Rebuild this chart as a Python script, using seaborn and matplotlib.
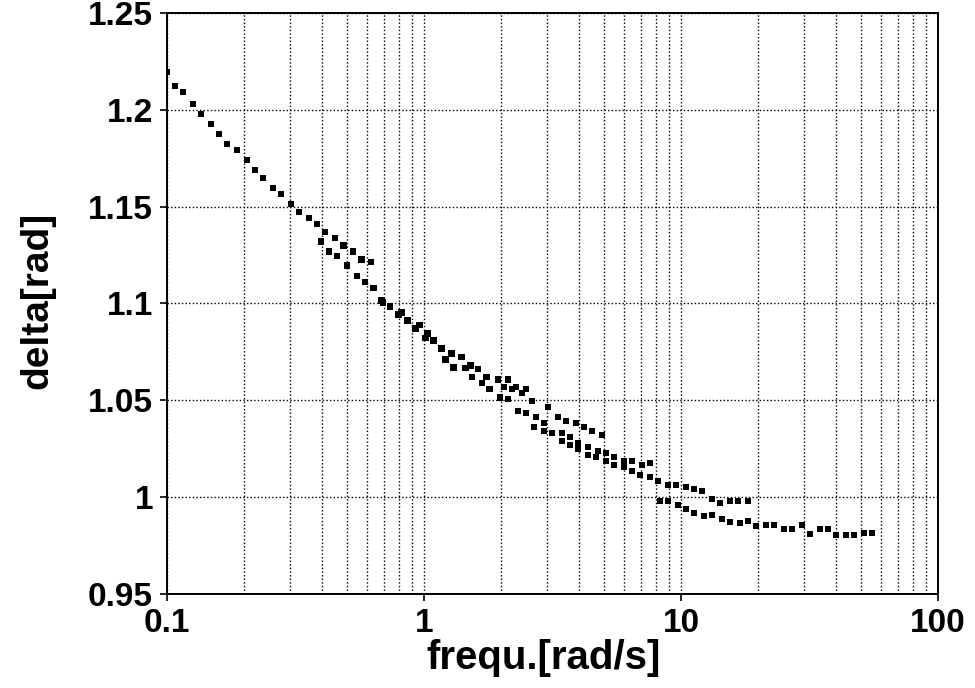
import numpy as np
import pandas as pd
import matplotlib
matplotlib.use("Agg")
import matplotlib.pyplot as plt
import matplotlib.ticker as mticker
import seaborn as sns

# ---- data ----
s1_freq = [0.1, 0.1075, 0.1154, 0.1263, 0.1357, 0.1484, 0.1595, 0.1713, 0.1875, 0.205,
           0.2203, 0.2367, 0.259, 0.2783, 0.3044, 0.327, 0.358, 0.384, 0.413, 0.452,
           0.486, 0.531, 0.571, 0.624]
s1_delta = [1.2196, 1.2124, 1.2093, 1.2031, 1.1979, 1.1928, 1.1876, 1.1825, 1.1794, 1.1742,
            1.1691, 1.1649, 1.1598, 1.1567, 1.1515, 1.1474, 1.1443, 1.1412, 1.1371, 1.1340,
            1.1299, 1.1268, 1.1227, 1.1216]

s2_freq = [0.398, 0.428, 0.460, 0.503, 0.550, 0.591, 0.636, 0.683, 0.740, 0.795,
           0.862, 0.927, 1.013, 1.089, 1.170, 1.280, 1.400, 1.518, 1.617, 1.752,
           1.934, 2.116, 2.273, 2.487, 2.625, 3.030, 3.315, 3.562, 3.896, 4.186,
           4.498, 4.920]
s2_delta = [1.1320, 1.1268, 1.1247, 1.1196, 1.1144, 1.1113, 1.1082, 1.1015, 1.0985, 1.0943,
            1.0912, 1.0871, 1.0820, 1.0809, 1.0768, 1.0742, 1.0722, 1.0680, 1.0660, 1.0619,
            1.0608, 1.0608, 1.0567, 1.0557, 1.0495, 1.0464, 1.0412, 1.0392, 1.0381, 1.0361,
            1.0340, 1.0320]

s3_freq = [0.695, 0.817, 0.960, 1.032, 1.213, 1.303, 1.451, 1.532, 1.676, 1.800,
           2.041, 2.193, 2.399, 2.721, 2.923, 3.437, 3.692, 3.967, 4.339, 4.747,
           5.101, 5.481, 5.995, 6.442, 7.047, 7.570]
s3_delta = [1.1005, 1.0954, 1.0887, 1.0845, 1.0711, 1.0670, 1.0665, 1.0619, 1.0588, 1.0557,
            1.0567, 1.0557, 1.0536, 1.0412, 1.0381, 1.0330, 1.0309, 1.0278, 1.0258, 1.0237,
            1.0227, 1.0206, 1.0186, 1.0186, 1.0165, 1.0175]

s4_freq = [1.970, 2.116, 2.314, 2.487, 2.673, 2.923, 3.141, 3.437, 3.692, 3.967,
           4.339, 4.662, 5.101, 5.481, 5.995, 6.442, 6.921, 7.570, 8.133, 8.899,
           9.561, 10.46, 11.24, 12.08, 13.21, 14.19, 15.52, 16.68, 18.25]
s4_delta = [1.0515, 1.0505, 1.0443, 1.0433, 1.0361, 1.0340, 1.0330, 1.0289, 1.0268, 1.0247,
            1.0216, 1.0206, 1.0186, 1.0165, 1.0155, 1.0134, 1.0113, 1.0103, 1.0082, 1.0062,
            1.0062, 1.0052, 1.0041, 1.0031, 0.9990, 0.9969, 0.9979, 0.9979, 0.9979]

s5_freq = [8.281, 8.899, 9.734, 10.46, 11.24, 12.29, 13.21, 14.45, 15.52, 16.98,
           18.25, 19.61, 21.45, 23.05, 25.21, 27.08, 29.63, 31.84, 34.83, 37.42,
           40.21, 43.98, 47.26, 51.69, 55.55]
s5_delta = [0.9979, 0.9979, 0.9959, 0.9938, 0.9918, 0.9902, 0.9907, 0.9887, 0.9871, 0.9866,
            0.9876, 0.9851, 0.9856, 0.9856, 0.9835, 0.9835, 0.9856, 0.9809, 0.9835, 0.9835,
            0.9804, 0.9804, 0.9804, 0.9814, 0.9814]

x_ticks = [0.1, 1, 10, 100]
x_tick_labels = ["0.1", "1", "10", "100"]
y_ticks = [0.95, 1.0, 1.05, 1.1, 1.15, 1.2, 1.25]
y_tick_labels = ["0.95", "1", "1.05", "1.1", "1.15", "1.2", "1.25"]

frames = []
for name, f, d in [("s1", s1_freq, s1_delta), ("s2", s2_freq, s2_delta),
                   ("s3", s3_freq, s3_delta), ("s4", s4_freq, s4_delta),
                   ("s5", s5_freq, s5_delta)]:
    frames.append(pd.DataFrame({"freq": f, "delta": d, "series": name}))
df = pd.concat(frames, ignore_index=True)

# ---- style ----
sns.set_style("ticks")
plt.rcParams["font.family"] = ["Liberation Sans", "DejaVu Sans"]
plt.rcParams["font.weight"] = "bold"
plt.rcParams["text.color"] = "black"
plt.rcParams["axes.labelcolor"] = "black"

fig = plt.figure(figsize=(9.75, 6.88), dpi=100)
ax = fig.add_axes([167 / 975, 1 - 594 / 688, (938 - 167) / 975, (594 - 13) / 688])

sns.scatterplot(data=df, x="freq", y="delta", hue="series",
                palette=["black"] * 5, marker="s", s=20, linewidth=0,
                legend=False, ax=ax, zorder=3)

ax.set_xscale("log")
ax.set_xlim(0.1, 100)
ax.set_ylim(0.95, 1.25)

ax.xaxis.set_major_locator(mticker.FixedLocator(x_ticks))
ax.xaxis.set_major_formatter(mticker.FixedFormatter(x_tick_labels))
ax.xaxis.set_minor_locator(mticker.LogLocator(base=10, subs=np.arange(2, 10)))
ax.xaxis.set_minor_formatter(mticker.NullFormatter())
ax.yaxis.set_major_locator(mticker.FixedLocator(y_ticks))
ax.yaxis.set_major_formatter(mticker.FixedFormatter(y_tick_labels))

grid_kw = dict(color="black", linewidth=1.0, linestyle=(0, (1, 1.6)))
ax.grid(which="major", axis="both", **grid_kw)
ax.grid(which="minor", axis="x", **grid_kw)
ax.set_axisbelow(True)

for sp in ax.spines.values():
    sp.set_visible(True)
    sp.set_color("black")
    sp.set_linewidth(1.4)

ax.tick_params(axis="both", which="major", direction="out", length=5, width=1.2,
               color="black", labelsize=24, pad=5, labelcolor="black")
ax.tick_params(axis="x", which="minor", length=0)
for lab in ax.get_xticklabels() + ax.get_yticklabels():
    lab.set_fontweight("bold")

ax.set_xlabel("frequ.[rad/s]", fontsize=29, fontweight="bold", color="black")
ax.set_ylabel("delta[rad]", fontsize=28, fontweight="bold", color="black")
# label positions as in the reference (xlabel slightly left of centre)
ax.xaxis.set_label_coords(0.488, -0.078)
ax.yaxis.set_label_coords(-0.145, 0.505)

fig.savefig("out.png", dpi=100, facecolor="white")
